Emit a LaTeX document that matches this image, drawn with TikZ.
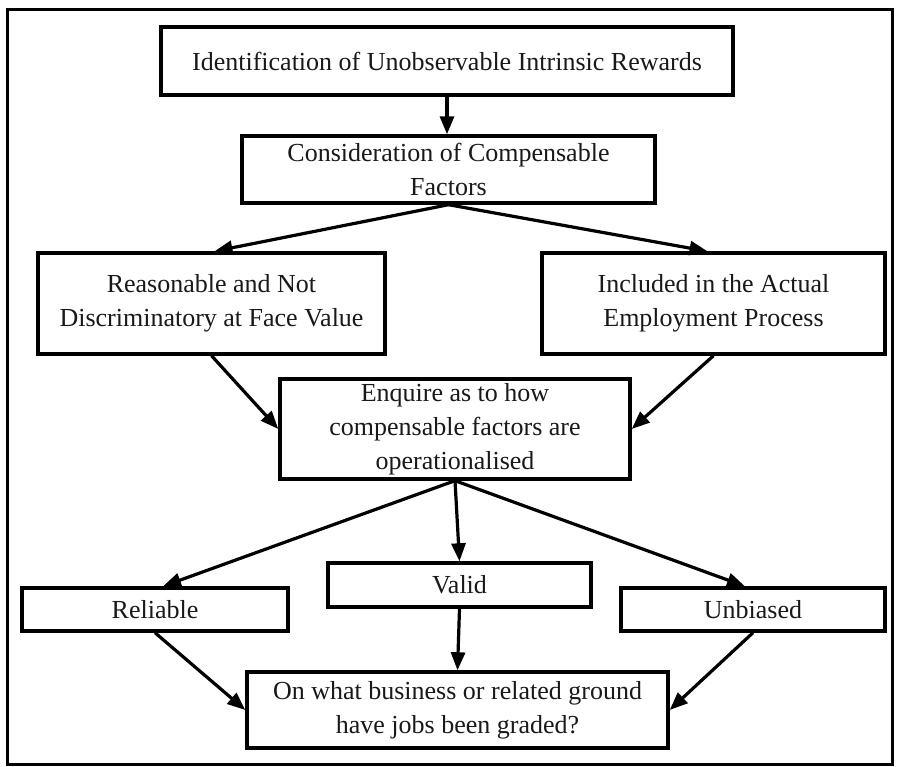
\documentclass[tikz,border=0pt]{standalone}
\usepackage{fontspec}
\setmainfont{Liberation Serif}
\usetikzlibrary{arrows.meta}
\begin{document}
\begin{tikzpicture}[x=1pt, y=-1pt,
  box/.style={draw, line width=3.4pt, inner sep=0pt, align=center,
              font=\fontsize{26}{34}\selectfont, text=black!90},
  flow/.style={line width=3.2pt, -{Triangle[length=18pt,width=14pt]}},
  frame/.style={draw, line width=3pt, inner sep=0pt}]
\useasboundingbox[fill=white] (0,0) rectangle (898,767);

% outer frame
\node[frame, minimum width=885pt, minimum height=754pt] (frame) at (449.5,387) {};

% boxes
\node[box, minimum width=572pt, minimum height=68pt] (b1) at (447,61)
  {Identification of Unobservable Intrinsic Rewards};
\node[box, minimum width=413pt, minimum height=67pt] (b2) at (448.5,169.5)
  {Consideration of Compensable\\Factors};
\node[box, minimum width=347pt, minimum height=101pt] (b3) at (211.5,303.5)
  {Reasonable and Not\\Discriminatory at Face Value};
\node[box, minimum width=343pt, minimum height=101pt] (b4) at (713.5,303.5)
  {Included in the Actual\\Employment Process};
\node[box, minimum width=350pt, minimum height=100pt] (b5) at (455,429)
  {Enquire as to how\\compensable factors are\\operationalised};
\node[box, minimum width=266pt, minimum height=43pt] (rel) at (155,609.5) {Reliable};
\node[box, minimum width=263pt, minimum height=44pt] (val) at (459.5,585) {Valid};
\node[box, minimum width=264pt, minimum height=43pt] (unb) at (753,609.5) {Unbiased};
\node[box, minimum width=421pt, minimum height=76pt] (b9) at (457.5,710)
  {On what business or related ground\\have jobs been graded?};

% connectors
\draw[flow] (b1.south) -- (b1.south |- b2.north);
\draw[flow] (b2.south) -- ([xshift=3pt]b3.north);
\draw[flow] (b2.south) -- ([xshift=-6pt]b4.north);
\draw[flow] (b3.south) -- (b5.west);
\draw[flow] (b4.south) -- (b5.east);
\draw[flow] (b5.south) -- ([xshift=8pt]rel.north);
\draw[flow] (b5.south) -- (val.north);
\draw[flow] (b5.south) -- ([xshift=-8pt]unb.north);
\draw[flow] (rel.south) -- (b9.west);
\draw[flow] (val.south) -- (b9.north);
\draw[flow] (unb.south) -- (b9.east);
\end{tikzpicture}
\end{document}
